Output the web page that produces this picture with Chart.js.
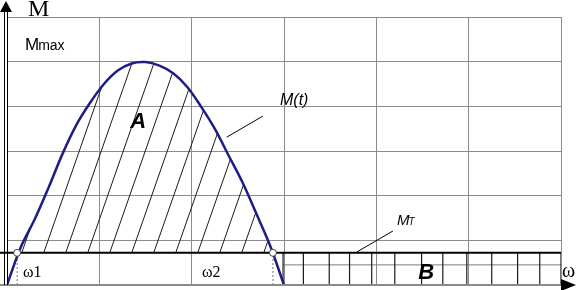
<!DOCTYPE html>
<html>
<head>
<meta charset="utf-8">
<script src="https://cdn.jsdelivr.net/npm/chart.js@4.4.0/dist/chart.umd.min.js"></script>
<style>
  html, body { margin: 0; padding: 0; background: #fff; }
</style>
</head>
<body>
<canvas id="chart" width="579" height="290"></canvas>
<script>
// one unit = one grid cell on both axes
const curveX = [0, 0.15, 0.3, 0.45, 0.6, 0.75, 0.9, 1.05, 1.2, 1.35, 1.5, 1.65, 1.8, 1.95, 2.1, 2.25, 2.4, 2.55, 2.7, 2.85, 3.0];
const curveY = [0, 0.85, 1.47, 2.18, 2.93, 3.58, 4.08, 4.5, 4.8, 4.96, 4.99, 4.91, 4.74, 4.44, 4.0, 3.5, 2.9, 2.3, 1.6, 0.88, 0];

const mT = 0.72;                       // load torque M_T
const omegaX = [0.11, 2.88];           // w1, w2 crossings
const bCellX = [2.99, 3.21, 3.49, 3.71, 3.95, 4.2, 4.49, 4.72, 4.98, 5.25, 5.53, 5.77, 6.0];
const bRowY = 0.45;
const leaderM = [[2.38, 3.31], [2.77, 3.78]];
const leaderMt = [[3.79, 0.74], [4.18, 1.21]];

function hatchPattern() {
    const w = 22, h = 63;
    const c = document.createElement('canvas');
    c.width = w; c.height = h;
    const g = c.getContext('2d');
    g.strokeStyle = '#1a1a1a';
    g.lineWidth = 1;
    [-w, 0, w].forEach(dx => {
        g.beginPath();
        g.moveTo(dx, h);
        g.lineTo(dx + w, 0);
        g.stroke();
    });
    return g.createPattern(c, 'repeat');
}

const curveData = curveX.map((x, i) => ({x: x, y: curveY[i]}));

const bVerticals = [];
bCellX.forEach(x => {
    bVerticals.push({x: x, y: 0}, {x: x, y: mT}, {x: x, y: null});
});
const dotted = [];
omegaX.forEach(x => {
    dotted.push({x: x, y: 0}, {x: x, y: mT}, {x: x, y: null});
});

const decor = {
    id: 'decor',
    afterDraw(chart) {
        const ctx = chart.ctx;
        const xs = chart.scales.x, ys = chart.scales.y;
        const left = chart.chartArea.left;
        const y0 = ys.getPixelForValue(0);
        ctx.save();

        // bottom axis + arrow
        ctx.strokeStyle = '#8a8a8a';
        ctx.lineWidth = 2;
        ctx.beginPath();
        ctx.moveTo(0, y0);
        ctx.lineTo(566, y0);
        ctx.stroke();
        ctx.fillStyle = '#000';
        ctx.beginPath();
        ctx.moveTo(561, y0 - 6);
        ctx.lineTo(576, y0);
        ctx.lineTo(561, y0 + 6);
        ctx.closePath();
        ctx.fill();

        // vertical axis (double line) + arrow
        ctx.strokeStyle = '#000';
        ctx.lineWidth = 1;
        [left - 3, left].forEach(px => {
            ctx.beginPath();
            ctx.moveTo(px + 0.5, y0);
            ctx.lineTo(px + 0.5, 10);
            ctx.stroke();
        });
        ctx.beginPath();
        ctx.moveTo(0, 12);
        ctx.lineTo(12, 12);
        ctx.lineTo(6, 1);
        ctx.closePath();
        ctx.fill();

        ctx.fillStyle = '#000';
        ctx.textBaseline = 'alphabetic';
        ctx.textAlign = 'left';

        ctx.font = '24px "Liberation Serif"';
        ctx.fillText('M', 28, 16);

        ctx.font = '17px "Liberation Sans"';
        ctx.fillText('M', 25, 50);
        const mw = ctx.measureText('M').width;
        ctx.font = '14px "Liberation Sans"';
        ctx.fillText('max', 24 + mw, 50);

        ctx.font = 'italic bold 22px "Liberation Sans"';
        ctx.textAlign = 'center';
        ctx.fillText('A', xs.getPixelForValue(1.42), ys.getPixelForValue(3.51));
        ctx.fillText('B', xs.getPixelForValue(4.54), ys.getPixelForValue(0.13));
        ctx.textAlign = 'left';

        ctx.font = 'italic 16px "Liberation Sans"';
        ctx.fillText('M(t)', 280, 105);

        ctx.font = 'italic 15px "Liberation Sans"';
        ctx.fillText('M', 397, 225);
        const tw = ctx.measureText('M').width;
        ctx.font = 'italic 10px "Liberation Sans"';
        ctx.fillText('T', 396 + tw, 225);

        ctx.font = '16px "Liberation Serif"';
        ctx.fillText('\u03c91', 23, 277);
        ctx.fillText('\u03c92', 202, 277);
        ctx.font = '20px "Liberation Serif"';
        ctx.fillText('\u03c9', 562, 277);

        ctx.restore();
    }
};

const gridColor = ctx => ctx.tick.value === 0 ? 'rgba(0,0,0,0)' : '#8c8c8c';

new Chart(document.getElementById('chart'), {
    type: 'line',
    data: {
        datasets: [
            {
                label: 'M(t)',
                data: curveData,
                borderColor: '#1d1d85',
                borderWidth: 2.5,
                tension: 0.35,
                pointRadius: 0,
                fill: {target: {value: mT}, above: hatchPattern(), below: 'rgba(0,0,0,0)'},
                order: 2
            },
            {
                label: 'MT',
                data: [{x: -0.08, y: mT}, {x: 6, y: mT}],
                borderColor: '#000',
                borderWidth: 2,
                pointRadius: 0,
                clip: false,
                order: 3
            },
            {
                label: 'B cells',
                data: bVerticals,
                borderColor: '#1a1a1a',
                borderWidth: 1.2,
                pointRadius: 0,
                spanGaps: false,
                order: 4
            },
            {
                label: 'B row',
                data: [{x: bCellX[0], y: bRowY}, {x: bCellX[bCellX.length - 1], y: bRowY}],
                borderColor: '#7a7a7a',
                borderWidth: 1,
                pointRadius: 0,
                order: 4
            },
            {
                label: 'drops',
                data: dotted,
                borderColor: '#777',
                borderWidth: 1,
                borderDash: [2, 2],
                pointRadius: 0,
                spanGaps: false,
                order: 5
            },
            {
                label: 'leaders',
                data: [
                    {x: leaderM[0][0], y: leaderM[0][1]}, {x: leaderM[1][0], y: leaderM[1][1]}, {x: 0, y: null},
                    {x: leaderMt[0][0], y: leaderMt[0][1]}, {x: leaderMt[1][0], y: leaderMt[1][1]}
                ],
                borderColor: '#000',
                borderWidth: 1,
                pointRadius: 0,
                spanGaps: false,
                order: 5
            },
            {
                label: 'omega',
                data: omegaX.map(x => ({x: x, y: mT})),
                showLine: false,
                pointRadius: 3.5,
                pointBackgroundColor: '#fff',
                pointBorderColor: '#444',
                pointBorderWidth: 1,
                order: 1
            }
        ]
    },
    options: {
        responsive: false,
        animation: false,
        layout: {padding: {left: 7, right: 18, top: 17, bottom: 5}},
        plugins: {legend: {display: false}, tooltip: {enabled: false}},
        scales: {
            x: {
                type: 'linear', min: 0, max: 6,
                ticks: {display: false, stepSize: 1},
                grid: {color: gridColor, drawTicks: false},
                border: {display: false}
            },
            y: {
                type: 'linear', min: 0, max: 6,
                ticks: {display: false, stepSize: 1},
                grid: {color: gridColor, drawTicks: false},
                border: {display: false}
            }
        }
    },
    plugins: [decor]
});
</script>
</body>
</html>
